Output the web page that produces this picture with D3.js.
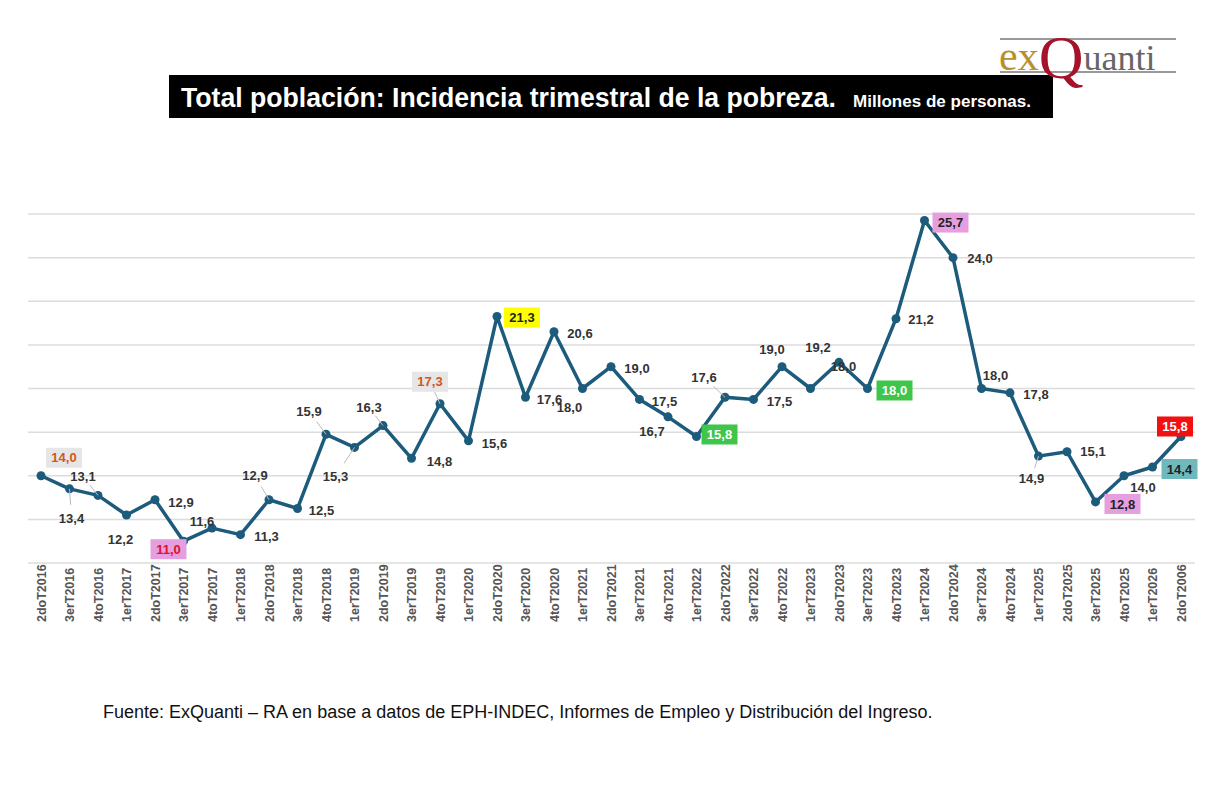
<!DOCTYPE html>
<html><head><meta charset="utf-8">
<script src="https://cdn.jsdelivr.net/npm/d3@7"></script>
<style>body{margin:0;background:#fff}</style>
</head><body><svg width="1206" height="785"></svg>
<script>
// quarters
const quarters = ["2doT2016","3erT2016","4toT2016","1erT2017","2doT2017","3erT2017","4toT2017","1erT2018","2doT2018","3erT2018","4toT2018","1erT2019","2doT2019","3erT2019","4toT2019","1erT2020","2doT2020","3erT2020","4toT2020","1erT2021","2doT2021","3erT2021","4toT2021","1erT2022","2doT2022","3erT2022","4toT2022","1erT2023","2doT2023","3erT2023","4toT2023","1erT2024","2doT2024","3erT2024","4toT2024","1erT2025","2doT2025","3erT2025","4toT2025","1erT2026","2doT2006"];
// millions of people
const values = [14.0,13.4,13.1,12.2,12.9,11.0,11.6,11.3,12.9,12.5,15.9,15.3,16.3,14.8,17.3,15.6,21.3,17.6,20.6,18.0,19.0,17.5,16.7,15.8,17.6,17.5,19.0,18.0,19.2,18.0,21.2,25.7,24.0,18.0,17.8,14.9,15.1,12.8,14.0,14.4,15.8];
const yTicks = [10,12,14,16,18,20,22,24,26];

// label placement (offset from point) and highlight boxes
const labelOffsets = [[23,-18],[2,29],[-15,-19],[-6,24],[26,3],[-15,8],[-10,-7],[26,2],[-14,-24],[24,2],[-17,-23],[-19,29],[-14,-18],[28,3],[-10,-22],[26,2],[25,1],[24,2],[26,2],[-13,19],[26,2],[25,2],[-16,14],[23,-2],[-21,-20],[26,2],[-10,-17],[33,-22],[-21,-15],[27,2],[25,1],[26,2],[27,1],[14,-13],[26,1],[-7,22],[26,0],[27,2],[19,12],[27,2],[-6,-10]];
const leaders = {1:true,2:true,8:true,10:true,11:true,12:true,14:true,24:true,35:true};
const highlights = {
  0:{bg:"#e6e6e6",fg:"#d2561e"},5:{bg:"#e59fe0",fg:"#e0102a"},14:{bg:"#e6e6e6",fg:"#d2561e"},
  16:{bg:"#ffff00",fg:"#222"},23:{bg:"#3ec54a",fg:"#fff"},29:{bg:"#3ec54a",fg:"#fff"},
  31:{bg:"#e59fe0",fg:"#222"},37:{bg:"#e59fe0",fg:"#222"},39:{bg:"#6fb9bd",fg:"#222"},40:{bg:"#f21010",fg:"#fff"}
};

const svg = d3.select("svg");
const x = d3.scalePoint().domain(quarters).range([41,1181]);
const y = d3.scaleLinear().domain([10,26]).range([563,214]);

// grid
svg.selectAll(".grid").data(yTicks).enter().append("line")
  .attr("x1",28).attr("x2",1195).attr("y1",d=>y(d)).attr("y2",d=>y(d))
  .attr("stroke","#dcdcdc").attr("stroke-width",1.5);

// x axis labels
svg.append("g").attr("transform","translate(0,572)")
  .call(d3.axisBottom(x).tickSize(0).tickPadding(0))
  .call(g=>g.select(".domain").remove())
  .selectAll("text")
  .attr("transform","rotate(-90)").attr("text-anchor","start").attr("x",-50).attr("y",0).attr("dy","0.35em")
  .style("font","bold 12.5px 'Liberation Sans', Arial").attr("fill","#555");

// line
const pts = values.map((v,i)=>[x(quarters[i]),y(v)]);
svg.append("path").attr("d",d3.line()(pts)).attr("fill","none")
  .attr("stroke","#1c5b7c").attr("stroke-width",3.5).attr("stroke-linejoin","round");
svg.selectAll(".pt").data(pts).enter().append("circle")
  .attr("cx",d=>d[0]).attr("cy",d=>d[1]).attr("r",4.5).attr("fill","#1c5b7c");

// labels
const fmt = v=>v.toFixed(1).replace(".",",");
values.forEach((v,i)=>{
  const [px,py]=pts[i], [dx,dy]=labelOffsets[i];
  const lx=px+dx, ly=py+dy, h=highlights[i];
  if(leaders[i]) svg.append("line").attr("x1",px).attr("y1",py).attr("x2",px+dx*0.55).attr("y2",py+dy*0.55)
    .attr("stroke","#bbb").attr("stroke-width",1);
  if(h) svg.append("rect").attr("x",lx-18).attr("y",ly-10).attr("width",36).attr("height",20).attr("fill",h.bg);
  svg.append("text").attr("x",lx).attr("y",ly).attr("text-anchor","middle").attr("dy","0.36em")
    .style("font","bold 13px 'Liberation Sans', Arial").attr("fill",h?h.fg:"#333").text(fmt(v));
});

// title
svg.append("rect").attr("x",169).attr("y",75).attr("width",884).attr("height",43).attr("fill","#000");
svg.append("text").attr("x",181).attr("y",107).attr("fill","#fff")
  .attr("textLength",655).attr("lengthAdjust","spacingAndGlyphs")
  .style("font","bold 28px 'Liberation Sans', Arial").text("Total población: Incidencia trimestral de la pobreza.");
svg.append("text").attr("x",853).attr("y",107).attr("fill","#fff")
  .attr("textLength",178).attr("lengthAdjust","spacingAndGlyphs")
  .style("font","bold 17px 'Liberation Sans', Arial").text("Millones de personas.");

// logo
svg.append("line").attr("x1",1000).attr("x2",1176).attr("y1",39).attr("y2",39).attr("stroke","#999").attr("stroke-width",2);
svg.append("line").attr("x1",1000).attr("x2",1176).attr("y1",72).attr("y2",72).attr("stroke","#999").attr("stroke-width",2);
const lg = svg.append("text").attr("x",999).attr("y",70).style("font-family","'Liberation Serif',serif");
lg.append("tspan").attr("fill","#b8902a").style("font-size","42px").text("ex");
lg.append("tspan").attr("fill","#a5122a").style("font-size","62px").attr("dy",8).text("Q");
lg.append("tspan").attr("fill","#666").style("font-size","36px").attr("dy",-8).text("uanti");

// source
svg.append("text").attr("x",103).attr("y",718).style("font","18px 'Liberation Sans', Arial").attr("fill","#111")
  .text("Fuente: ExQuanti – RA en base a datos de EPH-INDEC, Informes de Empleo y Distribución del Ingreso.");
</script></body></html>
